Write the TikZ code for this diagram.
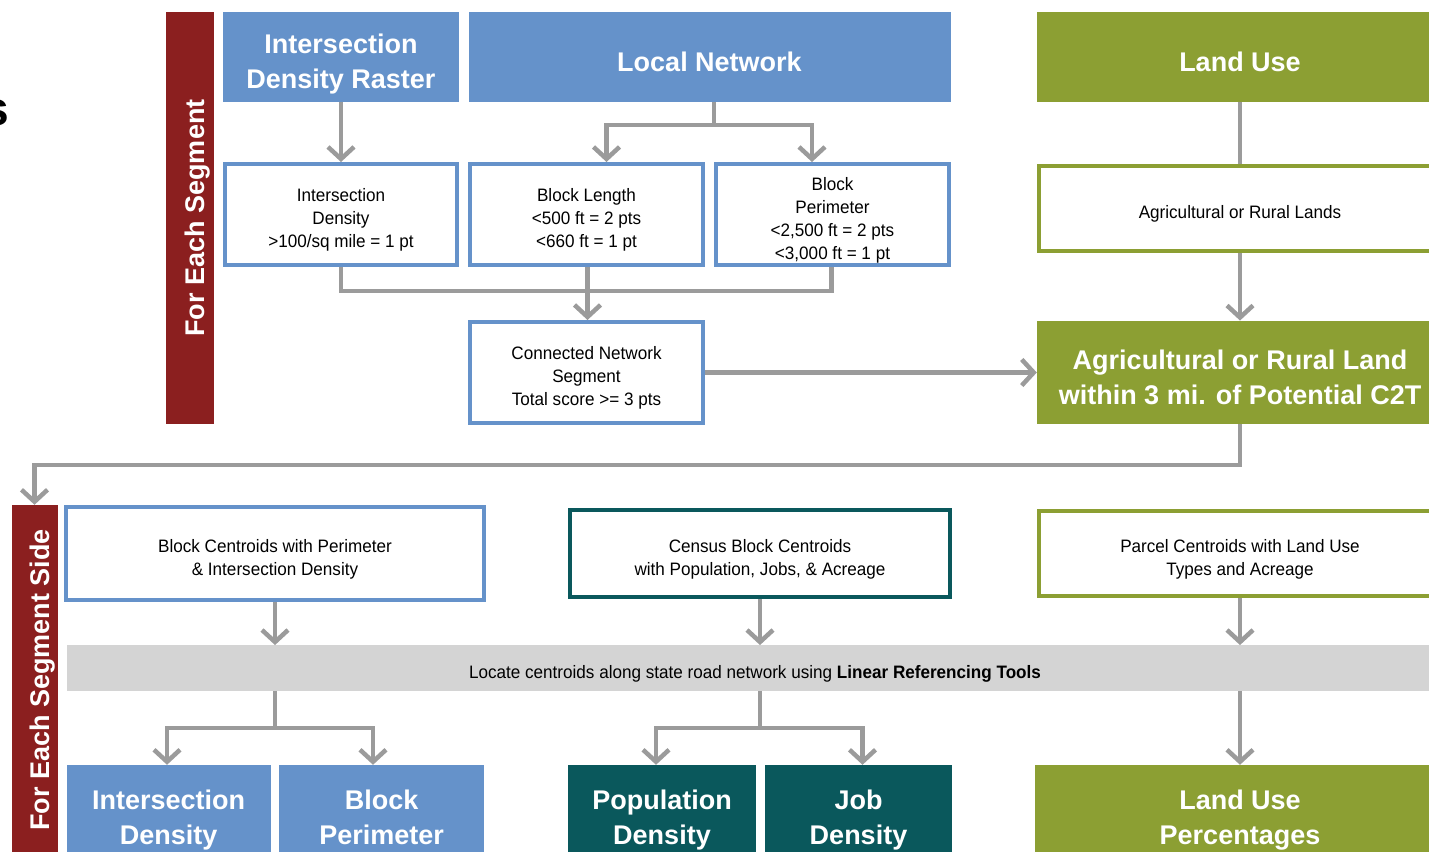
\documentclass[tikz,border=0pt]{standalone}
\usepackage{fontspec}
\setmainfont{Liberation Sans}
\newfontfamily\bodyfont[FakeStretch=0.95]{Liberation Sans}
\usetikzlibrary{arrows.meta}

\definecolor{segred}{HTML}{8B1F1F}
\definecolor{netblue}{HTML}{6592CA}
\definecolor{landolive}{HTML}{8C9F33}
\definecolor{censusteal}{HTML}{0A585C}
\definecolor{linkgray}{HTML}{9B9B9B}
\definecolor{bandgray}{HTML}{D4D4D4}

% struts that fix the height of the first line and the depth of the last line
\newcommand\hdtop{\rule{0pt}{35pt}}
\newcommand\hdbot{\rule[-6pt]{0pt}{6pt}}
\newcommand\bdtop{\rule{0pt}{24pt}}
\newcommand\bdbot{\rule[-4pt]{0pt}{4pt}}

\tikzset{
  title/.style={fill=#1, text=white, inner sep=0pt, align=center,
    font=\fontsize{27}{35}\selectfont\bfseries},
  detail/.style={draw=#1, line width=4pt, fill=white, inner sep=0pt, align=center,
    font=\bodyfont\fontsize{18}{23}\selectfont},
  sidebar/.style={fill=segred, text=white, inner sep=0pt, rotate=90,
    font=\fontsize{27}{35}\selectfont\bfseries},
  band/.style={fill=bandgray, inner sep=0pt,
    font=\bodyfont\fontsize{18}{23}\selectfont},
  link/.style={draw=linkgray, line width=4.5pt},
  arr/.style={link, -{Straight Barb[length=12pt,width=26pt]}},
}

\begin{document}
\begin{tikzpicture}[x=1pt, y=-1pt]
\useasboundingbox (0,0) rectangle (1429,851);

% trailing letter of the heading at the left edge
\node[font=\fontsize{48}{48}\selectfont\bfseries, anchor=base east, inner sep=0pt] (cutS) at (9,125) {s};

% ---------- per-segment stage ----------
\node[sidebar, minimum width=412pt, minimum height=48.6pt] (segBar) at (190,218) {\hdtop For Each Segment\hdbot};

\node[title=netblue, minimum width=236.6pt, minimum height=89.4pt] (raster) at (341,56.8) {\hdtop Intersection\\Density Raster\hdbot};
\node[title=netblue, minimum width=482pt, minimum height=89.4pt] (local) at (709.5,56.8) {\hdtop Local Network\hdbot};
\node[title=landolive, minimum width=406pt, minimum height=89.4pt] (land) at (1240,56.8) {\hdtop Land Use\hdbot};

\node[detail=netblue, minimum width=232.6pt, minimum height=101pt] (intd) at (341,214.5)
  {\bdtop Intersection\\Density\\>100/sq mile = 1 pt\bdbot};
\node[detail=netblue, minimum width=233pt, minimum height=101pt] (blen) at (586.5,214.5)
  {\bdtop Block Length\\<500 ft = 2 pts\\<660 ft = 1 pt\bdbot};
\node[detail=netblue, minimum width=233pt, minimum height=101pt] (bper) at (832.5,214.5)
  {\bdtop Block\\Perimeter\\<2,500 ft = 2 pts\\<3,000 ft = 1 pt\bdbot};
\node[detail=landolive, minimum width=402pt, minimum height=85pt] (agr) at (1240,208.5)
  {\bdtop Agricultural or Rural Lands\bdbot};

\node[detail=netblue, minimum width=233pt, minimum height=101pt] (conn) at (586.5,372.5)
  {\bdtop Connected Network\\Segment\\Total score >= 3 pts\bdbot};
\node[title=landolive, minimum width=406pt, minimum height=103.5pt] (agw) at (1240,372.5)
  {\hdtop Agricultural or Rural Land\\within 3 mi. of Potential C2T\hdbot};

% ---------- per-side stage ----------
\node[sidebar, minimum width=350pt, minimum height=46pt] (sideBar) at (34.5,680) {\hdtop For Each Segment Side\hdbot};

\node[detail=netblue, minimum width=418pt, minimum height=93pt] (bc) at (275,553.5)
  {\bdtop Block Centroids with Perimeter\\\& Intersection Density\bdbot};
\node[detail=censusteal, minimum width=380pt, minimum height=87pt] (census) at (760,553.5)
  {\bdtop Census Block Centroids\\with Population, Jobs, \& Acreage\bdbot};
\node[detail=landolive, minimum width=402pt, minimum height=85pt] (parcel) at (1240,553.5)
  {\bdtop Parcel Centroids with Land Use\\Types and Acreage\bdbot};

\node[band, minimum width=1377pt, minimum height=45.5pt] (lrt) at (755,668)
  {\bdtop Locate centroids along state road network using {\bfseries Linear Referencing Tools}\bdbot};

\node[title=netblue, minimum width=204pt, minimum height=94pt] (intb) at (168.7,812) {\hdtop Intersection\\Density\hdbot};
\node[title=netblue, minimum width=205pt, minimum height=94pt] (bpb) at (381.7,812) {\hdtop Block\\Perimeter\hdbot};
\node[title=censusteal, minimum width=188pt, minimum height=94pt] (pop) at (662,812) {\hdtop Population\\Density\hdbot};
\node[title=censusteal, minimum width=187pt, minimum height=94pt] (job) at (858.5,812) {\hdtop Job\\Density\hdbot};
\node[title=landolive, minimum width=410pt, minimum height=94pt] (lup) at (1240,812) {\hdtop Land Use\\Percentages\hdbot};

% ---------- connectors, upper stage ----------
\draw[arr] (raster.south) -- (intd.north);

\coordinate (lnSplit) at (714,125);
\draw[link] (local.south -| lnSplit) -- (lnSplit);
\draw[arr] (lnSplit) -| ([xshift=20pt]blen.north);
\draw[arr] (lnSplit) -| ([xshift=-20.5pt]bper.north);

\coordinate (mergeJ) at (587.5,291);
\draw[link] (intd.south) |- (mergeJ);
\draw[link] ([xshift=-1pt]bper.south) |- (mergeJ);
\draw[link] ([xshift=1pt]blen.south) -- (mergeJ);
\draw[arr] (mergeJ) -- (conn.north -| mergeJ);

\draw[arr] (conn.east) -- (agw.west);
\draw[link] (land.south) -- (agr.north);
\draw[arr] (agr.south) -- (agw.north);

\coordinate (backTurn) at (34.5,465);
\draw[arr] (agw.south) |- (backTurn) -- (sideBar.east);

% ---------- connectors, lower stage ----------
\draw[arr] (bc.south) -- (bc.south |- lrt.north);
\draw[arr] (census.south) -- (census.south |- lrt.north);
\draw[arr] (parcel.south) -- (parcel.south |- lrt.north);

\coordinate (leftSplit) at (275,728);
\draw[link] (bc.south |- lrt.south) -- (leftSplit);
\draw[arr] (leftSplit) -| ([xshift=-1.7pt]intb.north);
\draw[arr] (leftSplit) -| ([xshift=-8.7pt]bpb.north);

\coordinate (midSplit) at (760,728);
\draw[link] (census.south |- lrt.south) -- (midSplit);
\draw[arr] (midSplit) -| ([xshift=-6pt]pop.north);
\draw[arr] (midSplit) -| ([xshift=4pt]job.north);

\draw[arr] (parcel.south |- lrt.south) -- (lup.north);
\end{tikzpicture}
\end{document}
